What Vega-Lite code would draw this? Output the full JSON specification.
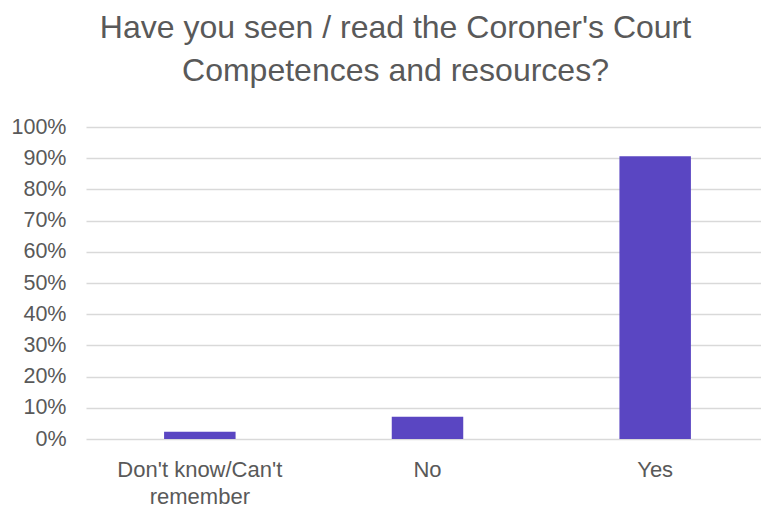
{
  "$schema": "https://vega.github.io/schema/vega-lite/v6.json",
  "autosize": {"type": "none"},
  "padding": {"left": 86, "top": 127, "right": 0, "bottom": 70},
  "width": 683,
  "height": 312,
  "background": "white",
  "title": {
    "text": ["Have you seen / read the Coroner's Court", "Competences and resources?"],
    "font": "Liberation Sans",
    "fontSize": 32,
    "fontWeight": "normal",
    "color": "#595959",
    "lineHeight": 43,
    "anchor": "middle",
    "frame": "group",
    "dx": -32,
    "offset": 28
  },
  "data": {
    "values": [
      {"answer": "Don't know/Can't remember", "share": 0.023},
      {"answer": "No", "share": 0.071},
      {"answer": "Yes", "share": 0.906}
    ]
  },
  "mark": {"type": "bar", "color": "#5A46C2"},
  "encoding": {
    "x": {
      "field": "answer",
      "type": "nominal",
      "sort": null,
      "scale": {"paddingInner": 0.686, "paddingOuter": 0.343},
      "axis": {
        "title": null,
        "domain": false,
        "ticks": false,
        "labelAngle": 0,
        "labelFont": "Liberation Sans",
        "labelFontSize": 22,
        "labelColor": "#595959",
        "labelPadding": 20,
        "labelLimit": 400,
        "labelLineHeight": 27,
        "labelExpr": "datum.value == 'No' || datum.value == 'Yes' ? datum.value : [\"Don't know/Can't\", \"remember\"]"
      }
    },
    "y": {
      "field": "share",
      "type": "quantitative",
      "scale": {"domain": [0, 1], "nice": false},
      "axis": {
        "title": null,
        "domain": false,
        "ticks": false,
        "values": [0, 0.1, 0.2, 0.3, 0.4, 0.5, 0.6, 0.7, 0.8, 0.9, 1],
        "format": ".0%",
        "labelFont": "Liberation Sans",
        "labelFontSize": 21.5,
        "labelColor": "#595959",
        "labelPadding": 20,
        "grid": true,
        "gridColor": "#D9D9D9",
        "gridWidth": 1.5
      }
    }
  },
  "config": {"view": {"stroke": null}}
}
